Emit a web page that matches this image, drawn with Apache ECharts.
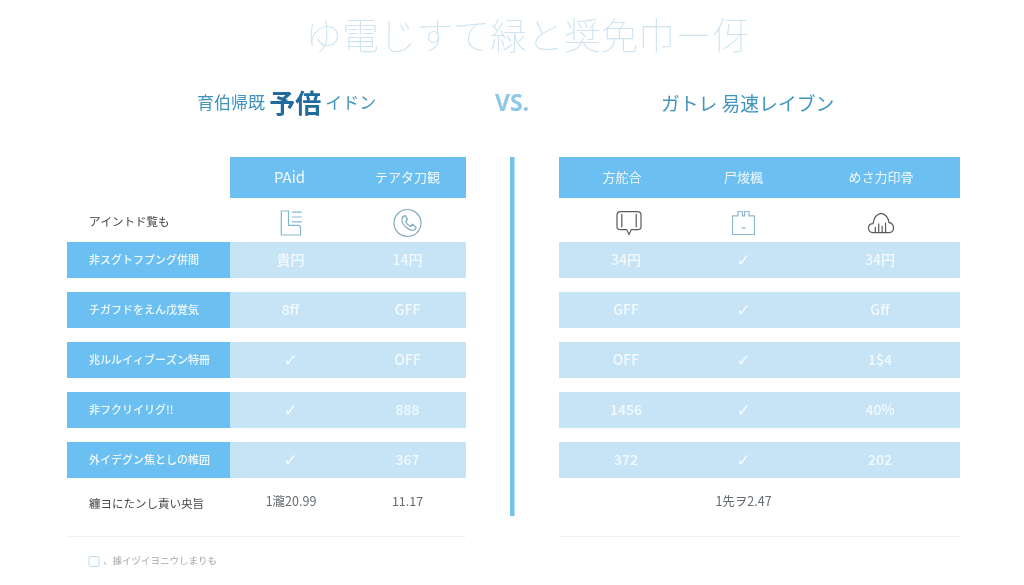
<!DOCTYPE html>
<html><head><meta charset="utf-8">
<style>html,body{margin:0;padding:0;background:#fff}#c{width:1024px;height:585px}</style>
<script src="https://cdn.jsdelivr.net/npm/echarts@6/dist/echarts.min.js"></script>
</head><body><div id="c"></div>
<script>
// ---- content ----
const chartTitle = 'ゆ電じすて緑と奨免巾ー伢';
const leftHead = ['育伯帰既', '予倍', 'イドン'];
const vsText = 'VS.';
const rightHead = 'ガトレ 易速レイブン';
const iconRowLabel = 'アイントド覧も';
const rowLabels = ['非スグトフプング併間', 'チガフドをえん戊覚気', '兆ルルイィブーズン特冊', '非フクリイリグ!!', '外イデグン焦としの帷囲'];
const footerLabel = '纏ヨにたンし責い央旨';
const noteText = '、據イヅイヨニウしまりも';

const headers = ['PAid', 'テアタ刀観', '方舵合', '尸焌楓', 'めさ力印骨'];
const icons = ['doc', 'phone', 'chat', 'box', 'cloud'];
const col1 = ['貴円', '8ff', '✓', '✓', '✓'];
const col2 = ['14円', 'GFF', 'OFF', '888', '367'];
const col3 = ['34円', 'GFF', 'OFF', '1456', '372'];
const col4 = ['✓', '✓', '✓', '✓', '✓'];
const col5 = ['34円', 'Gff', '1$4', '40%', '202'];
const footers = ['1瀧20.99', '11.17', '', '1先ヲ2.47', ''];

// ---- layout & style ----
const FONT = '"Noto Sans CJK JP","Noto Sans",sans-serif';
const columns = [
  {x: 230, w: 119, cells: col1, i: 0, shift: 1, iconShift: 2},
  {x: 349, w: 117, cells: col2, i: 1, shift: 0, iconShift: 0},
  {x: 559, w: 126, cells: col3, i: 2, shift: 4, iconShift: 7},
  {x: 685, w: 117, cells: col4, i: 3, shift: 0, iconShift: 0},
  {x: 802, w: 158, cells: col5, i: 4, shift: -1, iconShift: 0}
];
const labelCol = {x: 67, w: 163};
const HEAD = {top: 157, h: 41}, ICON = {top: 203, h: 40}, ROWS = {top: 235, h: 250}, FOOT = {top: 482, h: 40};
const iconPaths = {
  doc: 'path://M4 2H10V14H18Q20 14 20 16V22H4ZM13 3H21M13 7H21M13 11H21',
  phone: 'path://M12 1A11 11 0 1 1 11.99 1ZM8 7L10 6L12 9L10.5 11Q12 14 14.5 15L16 13L19 15.5L18 17.5Q15 19 10.5 15Q6 11 8 7Z',
  chat: 'path://M5 3H19Q22 3 22 6V16Q22 18 19 18H14L12 22L10 18H5Q2 18 2 16V6Q2 3 5 3ZM6 5V16M18 5V16',
  box: 'path://M2 6H7V2H11V6H13V2H17V6H22V23H2ZM10 17H14',
  cloud: 'path://M5 20Q1 20 1 16Q1 12 5 12Q6 4 12 3Q18 4 19 11Q23 12 23 16Q23 20 19 20ZM7 20V15M10 20V12M13 20V14M16 20V11'
};
const iconStyle = {
  doc: {c: '#86b7d0', s: 24}, phone: {c: '#7fa9bf', s: 27}, chat: {c: '#555b60', s: 24},
  box: {c: '#90b9cc', s: 23}, cloud: {c: '#565b60', s: 25}
};

const grids = [], xAxes = [], yAxes = [], series = [];
function addBlock(x, w, block, cats, xType) {
  const idx = grids.length;
  grids.push({left: x, top: block.top, width: w, height: block.h, containLabel: false, show: false});
  const hidden = {show: false, axisLine: {show: false}, axisTick: {show: false}, axisLabel: {show: false}, splitLine: {show: false}};
  xAxes.push(Object.assign({gridIndex: idx}, hidden, xType === 'cat' ? {type: 'category', data: ['c']} : {type: 'value', min: 0, max: 1}));
  yAxes.push(Object.assign({gridIndex: idx, type: 'category', inverse: true, data: cats}, hidden));
  return idx;
}
function bands(x, w, block, texts, fill, barH, labelStyle) {
  const idx = addBlock(x, w, block, texts);
  series.push({
    type: 'bar', xAxisIndex: idx, yAxisIndex: idx, barWidth: barH, silent: true,
    data: texts.map(() => 1),
    itemStyle: {color: fill},
    label: Object.assign({show: true, position: 'inside', fontFamily: FONT,
      formatter: p => texts[p.dataIndex] === '✓' ? '{c|✓}' : texts[p.dataIndex],
      rich: {c: {fontFamily: '"DejaVu Sans"', fontSize: 17, color: '#f6fbff', padding: [3, 0, 0, 0]}}}, labelStyle)
  });
}
const HEAD_C = '#6cc0f1', CELL_C = '#c7e4f7', TXT = '#f3fafe';

columns.forEach(col => {
  bands(col.x, col.w, HEAD, [headers[col.i]], HEAD_C, 41, {color: '#f2f9fe', fontSize: col.i === 0 ? 15 : 13});
  bands(col.x, col.w, ROWS, col.cells, CELL_C, 36, {color: TXT, fontSize: 14, fontWeight: 500, offset: [col.shift, 0]});
  bands(col.x, col.w, FOOT, [footers[col.i]], 'rgba(0,0,0,0)', 30, {color: '#666c71', fontSize: 12.5, offset: [col.shift * 1.5, -1]});
  // icon row
  const name = icons[col.i], st = iconStyle[name];
  const idx = addBlock(col.x, col.w, ICON, [name], 'cat');
  series.push({
    type: 'scatter', xAxisIndex: idx, yAxisIndex: idx, silent: true,
    symbol: iconPaths[name], symbolSize: st.s, symbolKeepAspect: true, symbolOffset: [col.iconShift, 0],
    data: [['c', name]],
    itemStyle: {color: 'rgba(0,0,0,0)', borderColor: st.c, borderWidth: 1.2, opacity: 1}
  });
});
// label column
bands(labelCol.x, labelCol.w, ROWS, rowLabels, HEAD_C, 36, {position: 'insideLeft', distance: 22, color: '#f2f9fe', fontSize: 11, fontWeight: 500});
bands(labelCol.x, labelCol.w, {top: 202, h: 40}, [iconRowLabel], 'rgba(0,0,0,0)', 30, {position: 'insideLeft', distance: 22, color: '#3b3f42', fontSize: 11.5});
bands(labelCol.x, labelCol.w, FOOT, [footerLabel], 'rgba(0,0,0,0)', 30, {position: 'insideLeft', distance: 22, color: '#44484b', fontSize: 11.5, offset: [0, 2]});

const option = {
  animation: false,
  backgroundColor: '#ffffff',
  grid: grids, xAxis: xAxes, yAxis: yAxes, series,
  graphic: [
    {type: 'text', x: 305, y: 17, style: {text: chartTitle, font: '100 37px ' + FONT, fill: '#cde4f1'}, silent: true},
    {type: 'text', x: 197, y: 90, style: {
      rich: {a: {fontFamily: FONT, fontSize: 17, fill: '#3f93bd'},
             b: {fontFamily: FONT, fontSize: 26, fontWeight: 700, fill: '#1f6b9e', padding: [0, 4, 0, 1]},
             c: {fontFamily: FONT, fontSize: 17, fill: '#3f93bd'}},
      text: '{a|' + leftHead[0] + '} {b|' + leftHead[1] + '}{c|' + leftHead[2] + '}'}, silent: true},
    {type: 'text', x: 495, y: 93, style: {text: vsText, font: '700 23px "Open Sans",sans-serif', fill: '#8ec8e8'}, silent: true},
    {type: 'text', x: 661, y: 94, style: {text: rightHead, font: '400 18.8px ' + FONT, fill: '#3f95bd'}, silent: true},
    {type: 'rect', shape: {x: 510, y: 157, width: 4.5, height: 359}, style: {fill: '#72c3ec'}, silent: true},
    {type: 'rect', shape: {x: 67, y: 536, width: 399, height: 1}, style: {fill: '#f0f3f5'}, silent: true},
    {type: 'rect', shape: {x: 559, y: 536, width: 401, height: 1}, style: {fill: '#f0f3f5'}, silent: true},
    {type: 'rect', shape: {x: 89, y: 556.5, width: 10, height: 10, r: 1.5}, style: {fill: '#fff', stroke: '#bcd9ea', lineWidth: 1}, silent: true},
    {type: 'text', x: 103, y: 555.5, style: {text: noteText, font: '400 9.5px ' + FONT, fill: '#a3a8ac'}, silent: true}
  ]
};
const chart = echarts.init(document.getElementById('c'), null, {renderer: 'canvas'});
chart.setOption(option);
</script></body></html>
